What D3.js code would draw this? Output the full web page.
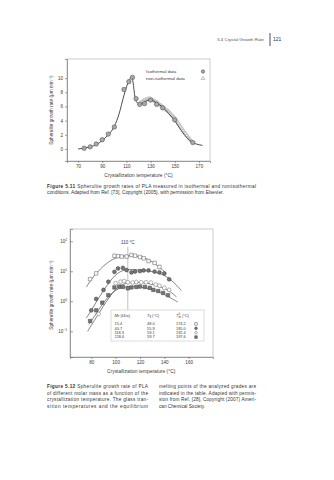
<!DOCTYPE html>
<html>
<head>
<meta charset="utf-8">
<script src="https://cdn.jsdelivr.net/npm/d3@7"></script>
<style>
  html, body { margin: 0; padding: 0; background: #fff; }
  svg { display: block; font-family: "Liberation Sans", Arial, sans-serif; }
</style>
</head>
<body>
<svg id="page" width="334" height="480"></svg>
<script>
// ---------- Figure 5.11: growth rate vs crystallization temperature (linear axis) ----------
const isoTemp   = [75, 80, 85, 90, 95, 100, 108, 112, 115, 118, 121, 125, 130, 135, 140, 150, 165];
const isoRate   = [0.1, 0.3, 0.7, 1.3, 2.1, 3.1, 8.4, 9.5, 10.1, 7.1, 6.3, 6.4, 6.9, 6.3, 5.8, 4.1, 0.9];
const fitTemp   = [70, 75, 80, 85, 90, 95, 100, 104, 108, 111, 113, 114.5, 115.5, 117, 119, 121, 124, 127, 130, 135, 140, 145, 150, 155, 160, 165, 170, 173];
const fitRate   = [0.0, 0.1, 0.3, 0.6, 1.2, 2.0, 3.2, 5.0, 7.6, 9.2, 9.9, 10.2, 9.4, 7.4, 6.5, 6.3, 6.5, 6.8, 6.9, 6.5, 5.9, 5.0, 4.0, 2.7, 1.6, 0.9, 0.6, 0.5];
const nonIsoTemp = [121, 122, 123, 124, 125, 126, 127, 128, 129, 130, 131, 132, 133, 134, 135, 136, 137, 138, 139, 140, 141, 142, 143, 144, 145, 146, 147, 148, 149, 150, 151, 152, 153, 154, 155, 156, 157, 158, 159, 160, 161, 162, 163, 164];
const nonIsoRate = [6.4, 6.6, 6.7, 6.8, 6.9, 7.0, 7.0, 7.1, 7.1, 7.1, 7.0, 6.9, 6.8, 6.7, 6.6, 6.5, 6.3, 6.2, 6.1, 6.0, 5.8, 5.7, 5.5, 5.4, 5.3, 5.1, 4.9, 4.7, 4.6, 4.4, 4.1, 3.9, 3.6, 3.4, 3.1, 2.9, 2.6, 2.4, 2.2, 1.9, 1.7, 1.5, 1.3, 1.1];
const xTicks1 = [70, 90, 110, 130, 150, 170];
const yTicks1 = [0, 2, 4, 6, 8, 10];

// ---------- Figure 5.12: growth rate for four molar masses (log axis) ----------
const gradeMn = ["15.4", "40.7", "118.3", "218.6"];
const gradeTg = ["48.0", "55.9", "59.1", "59.7"];
const gradeTm = ["174.2", "185.0", "192.4", "197.6"];
const s1Temp = [79, 84, 99, 102, 105, 109, 113, 116, 120, 123, 127, 132, 136];
const s1Rate = [5.5, 8.5, 33, 32, 31, 31, 35, 33, 30, 27, 22, 19, 14];
const s2Temp = [80, 84, 90, 94, 99, 102, 106, 109, 113, 116, 120, 123, 127, 132, 136, 140, 144];
const s2Rate = [0.5, 1.2, 2.4, 4.5, 9.6, 12.5, 13, 11, 9.2, 9.8, 10.2, 10.7, 10.7, 9.8, 9.2, 8.5, 5.4];
const s3Temp = [86, 100, 104, 107, 110, 114, 117, 121, 125, 129, 133, 136, 140, 144];
const s3Rate = [0.38, 4.0, 4.5, 4.7, 4.3, 4.2, 4.4, 4.3, 4.3, 4.2, 3.6, 3.3, 2.8, 2.4];
const s4Temp = [79, 84, 89, 94, 99, 103, 106, 110, 113, 117, 120, 124, 128, 131, 135, 139, 143];
const s4Rate = [0.22, 0.5, 0.9, 1.6, 2.9, 3.1, 3.0, 2.7, 2.9, 3.0, 3.1, 3.0, 2.8, 2.4, 2.2, 1.9, 1.6];
const f1Temp = [76, 80, 85, 90, 95, 100, 105, 110, 115, 120, 125, 130, 135, 141];
const f1Rate = [3.0, 5.5, 9.5, 15, 22, 28, 32, 33, 33, 31, 27, 21, 15, 9];
const f2Temp = [76, 80, 85, 90, 95, 100, 105, 110, 115, 120, 125, 130, 135, 140, 145, 150, 154];
const f2Rate = [0.28, 0.5, 1.1, 2.3, 4.5, 7.8, 10.5, 11.5, 11.5, 11, 10.5, 9.8, 8.8, 7.4, 5.4, 3.5, 2.3];
const f3Temp = [77, 80, 85, 90, 95, 100, 105, 110, 115, 120, 125, 130, 135, 140, 145, 150];
const f3Rate = [0.1, 0.16, 0.33, 0.7, 1.4, 2.6, 3.6, 4.1, 4.3, 4.3, 4.1, 3.7, 3.2, 2.7, 2.1, 1.4];
const f4Temp = [78, 80, 85, 90, 95, 100, 105, 110, 115, 120, 125, 130, 135, 140, 145, 151];
const f4Rate = [0.17, 0.22, 0.45, 0.9, 1.6, 2.4, 2.9, 3.1, 3.1, 3.0, 2.8, 2.5, 2.1, 1.7, 1.3, 0.95];
const xTicks2 = [80, 100, 120, 140, 160];
const yTicks2 = [0.1, 1, 10, 100];
const markerTemp = 110;

const svg = d3.select("#page");
const ink = "#3a3a3a";
const zip = (a, b) => a.map((d, i) => [d, b[i]]);

// ---------- running head ----------
svg.append("text").attr("x", 264).attr("y", 40.5).attr("text-anchor", "end")
  .attr("font-size", 4.4).attr("fill", "#555")
  .text("5.4   Crystal Growth Rate");
svg.append("line").attr("x1", 270).attr("x2", 270).attr("y1", 33).attr("y2", 46)
  .attr("stroke", "#222").attr("stroke-width", 0.8);
svg.append("text").attr("x", 273).attr("y", 41).attr("font-size", 5).attr("fill", "#333").text("121");

function styleAxis(a) {
  a.select(".domain").attr("stroke", "#666").attr("stroke-width", 0.6);
  a.selectAll(".tick line").attr("stroke", "#666").attr("stroke-width", 0.6);
  a.selectAll(".tick text").attr("font-size", 4.6).attr("fill", ink)
    .attr("font-family", "Liberation Sans, Arial, sans-serif");
}

// ---------- chart 1 ----------
const L1 = 67, R1 = 210, T1 = 59, B1 = 161;
const x1 = d3.scaleLinear().domain([60.8, 179.2]).range([L1, R1]);
const y1 = d3.scaleLinear().domain([-1.7, 12.7]).range([B1, T1]);
const g1 = svg.append("g");

g1.append("rect").attr("x", L1).attr("y", T1).attr("width", R1 - L1).attr("height", B1 - T1)
  .attr("fill", "none").attr("stroke", "#aaa").attr("stroke-width", 0.6);

const ax1 = g1.append("g").attr("transform", `translate(0,${B1})`)
  .call(d3.axisBottom(x1).tickValues(xTicks1).tickSize(2).tickPadding(2));
const ay1 = g1.append("g").attr("transform", `translate(${L1},0)`)
  .call(d3.axisLeft(y1).tickValues(yTicks1).tickSize(2).tickPadding(2));
styleAxis(ax1); styleAxis(ay1);

g1.append("text").attr("transform", "translate(52.5,110) rotate(-90)")
  .attr("text-anchor", "middle").attr("font-size", 4.7).attr("fill", ink)
  .text("Spherulite growth rate (μm min⁻¹)");
g1.append("text").attr("x", x1(120)).attr("y", 176.5).attr("text-anchor", "middle")
  .attr("font-size", 4.9).attr("fill", ink).text("Crystallization temperature (°C)");

// non-isothermal points
const tri = d3.symbol().type(d3.symbolTriangle).size(6);
g1.append("g").selectAll("path").data(zip(nonIsoTemp, nonIsoRate)).join("path")
  .attr("d", tri).attr("transform", d => `translate(${x1(d[0])},${y1(d[1])})`)
  .attr("fill", "none").attr("stroke", "#b4b4b4").attr("stroke-width", 0.6);

// isothermal fit curve
g1.append("path").datum(zip(fitTemp, fitRate))
  .attr("d", d3.line().x(d => x1(d[0])).y(d => y1(d[1])).curve(d3.curveMonotoneX))
  .attr("fill", "none").attr("stroke", "#222").attr("stroke-width", 0.8);

// isothermal points
g1.append("g").selectAll("circle").data(zip(isoTemp, isoRate)).join("circle")
  .attr("cx", d => x1(d[0])).attr("cy", d => y1(d[1])).attr("r", 2.2)
  .attr("fill", "#a8a8a8").attr("stroke", "#555").attr("stroke-width", 0.6);

// legend
g1.append("text").attr("x", 146).attr("y", 73).attr("font-size", 4.4).attr("fill", ink).text("Isothermal data");
g1.append("text").attr("x", 146).attr("y", 79.8).attr("font-size", 4.4).attr("fill", ink).text("non-isothermal data");
g1.append("circle").attr("cx", 203).attr("cy", 71.5).attr("r", 1.7)
  .attr("fill", "#a8a8a8").attr("stroke", "#555").attr("stroke-width", 0.6);
g1.append("path").attr("d", tri).attr("transform", "translate(203,78.5)")
  .attr("fill", "none").attr("stroke", "#999").attr("stroke-width", 0.6);

// caption 5.11
const capStep = 6.6;
const cap1 = svg.append("g").attr("font-size", 4.8).attr("fill", "#333");
const c1a = cap1.append("text").attr("x", 47).attr("y", 187.8)
  .attr("textLength", 209).attr("lengthAdjust", "spacing");
c1a.append("tspan").attr("font-weight", "bold").text("Figure 5.11");
c1a.append("tspan").text("  Spherulite growth rates of PLA measured in isothermal and nonisothermal");
cap1.append("text").attr("x", 47).attr("y", 187.8 + capStep)
  .text("conditions.  Adapted from Ref. [73], Copyright (2005), with permission from Elsevier.");

// ---------- chart 2 ----------
const L2 = 70, R2 = 213, T2 = 229, B2 = 357;
const x2 = d3.scaleLinear().domain([62.5, 180]).range([L2, R2]);
const y2 = d3.scaleLog().domain([Math.pow(10, -1.857), Math.pow(10, 2.41)]).range([B2, T2]);
const g2 = svg.append("g");

g2.append("rect").attr("x", L2).attr("y", T2).attr("width", R2 - L2).attr("height", B2 - T2)
  .attr("fill", "none").attr("stroke", "#aaa").attr("stroke-width", 0.6);

const ax2 = g2.append("g").attr("transform", `translate(0,${B2})`)
  .call(d3.axisBottom(x2).tickValues(xTicks2).tickSize(2).tickPadding(2));
const ay2 = g2.append("g").attr("transform", `translate(${L2},0)`)
  .call(d3.axisLeft(y2).tickValues(yTicks2).tickSize(-3).tickFormat(() => ""));
styleAxis(ax2); styleAxis(ay2);

// power-of-ten labels
const pLabels = g2.append("g").attr("font-size", 4.5).attr("fill", ink);
yTicks2.forEach(v => {
  const t = pLabels.append("text").attr("x", L2 - 3).attr("y", y2(v) + 1.6).attr("text-anchor", "end");
  t.append("tspan").text("10");
  t.append("tspan").attr("dy", -2).attr("font-size", 3.3).text(String(Math.round(Math.log10(v))).replace("-", "−"));
});

g2.append("text").attr("transform", "translate(52.5,295) rotate(-90)")
  .attr("text-anchor", "middle").attr("font-size", 4.7).attr("fill", ink)
  .text("Spherulite growth rate (μm min⁻¹)");
g2.append("text").attr("x", x2(121)).attr("y", 372.5).attr("text-anchor", "middle")
  .attr("font-size", 4.9).attr("fill", ink).text("Crystallization temperature (°C)");

// 110 °C reference line
g2.append("line").attr("x1", x2(markerTemp)).attr("x2", x2(markerTemp)).attr("y1", 247).attr("y2", 310)
  .attr("stroke", "#999").attr("stroke-width", 0.6);
g2.append("text").attr("x", x2(markerTemp)).attr("y", 243.8).attr("text-anchor", "middle")
  .attr("font-size", 4.5).attr("fill", ink).text("110 °C");

// fit curves
const line2 = d3.line().x(d => x2(d[0])).y(d => y2(d[1])).curve(d3.curveBasis);
[[f1Temp, f1Rate], [f2Temp, f2Rate], [f3Temp, f3Rate], [f4Temp, f4Rate]].forEach(([t, r]) => {
  g2.append("path").datum(zip(t, r)).attr("d", line2)
    .attr("fill", "none").attr("stroke", "#333").attr("stroke-width", 0.6);
});

// markers for the four grades
const sq = d3.symbol().type(d3.symbolSquare).size(12);
const sqSmall = d3.symbol().type(d3.symbolSquare).size(7);
const styles = [
  { shape: "square", fill: "#fff", stroke: "#555" },
  { shape: "circle", fill: "#777", stroke: "#333" },
  { shape: "circle", fill: "#fff", stroke: "#666" },
  { shape: "square", fill: "#777", stroke: "#444" }
];
const series = [[s1Temp, s1Rate], [s2Temp, s2Rate], [s3Temp, s3Rate], [s4Temp, s4Rate]];
function drawMarker(sel, st, x, y, small) {
  if (st.shape === "square") {
    sel.append("path").attr("d", small ? sqSmall : sq).attr("transform", `translate(${x},${y})`)
      .attr("fill", st.fill).attr("stroke", st.stroke).attr("stroke-width", 0.5);
  } else {
    sel.append("circle").attr("cx", x).attr("cy", y).attr("r", small ? 1.3 : 1.9)
      .attr("fill", st.fill).attr("stroke", st.stroke).attr("stroke-width", 0.5);
  }
}
[3, 2, 1, 0].forEach(i => {
  const gs = g2.append("g");
  zip(series[i][0], series[i][1]).forEach(d => drawMarker(gs, styles[i], x2(d[0]), y2(d[1]), false));
});

// table of grades
const tb = g2.append("g");
const tbLeft = 111, tbRight = 204, tbTop = 310, tbBottom = 341;
tb.append("rect").attr("x", tbLeft).attr("y", tbTop).attr("width", tbRight - tbLeft).attr("height", tbBottom - tbTop)
  .attr("fill", "#fff").attr("stroke", "#bbb").attr("stroke-width", 0.5);
const colMn = 114.5, colTg = 147, colTm = 176, colSym = 196;
const th = tb.append("g").attr("font-size", 3.9).attr("fill", ink);
const h1 = th.append("text").attr("x", colMn).attr("y", 316.5);
h1.append("tspan").attr("font-style", "italic").text("M");
h1.append("tspan").attr("font-size", 2.9).attr("dy", 0.9).text("n");
h1.append("tspan").attr("dy", -0.9).text(" (kDa)");
const h2 = th.append("text").attr("x", colTg).attr("y", 316.5);
h2.append("tspan").attr("font-style", "italic").text("T");
h2.append("tspan").attr("font-size", 2.9).attr("dy", 0.9).text("g");
h2.append("tspan").attr("dy", -0.9).text(" (°C)");
const h3 = th.append("text").attr("x", colTm).attr("y", 316.5);
h3.append("tspan").attr("font-style", "italic").text("T");
h3.append("tspan").attr("font-size", 2.9).attr("dy", -1.7).text("0");
h3.append("tspan").attr("font-size", 2.9).attr("dx", -1.6).attr("dy", 2.8).text("m");
h3.append("tspan").attr("dy", -1.1).text(" (°C)");
gradeMn.forEach((m, i) => {
  const yy = 325.2 + i * 4.4;
  th.append("text").attr("x", colMn).attr("y", yy).text(m);
  th.append("text").attr("x", colTg).attr("y", yy).text(gradeTg[i]);
  th.append("text").attr("x", colTm).attr("y", yy).text(gradeTm[i]);
  drawMarker(tb, styles[i], colSym, yy - 1.3, true);
});

// caption 5.12 (two justified columns)
const cap2 = svg.append("g").attr("font-size", 4.7).attr("fill", "#333");
const leftCol = ["", "of different molar mass as a function of the", "crystallization temperature. The glass tran-", "sition temperatures and the equilibrium"];
const rightCol = ["melting points of the analyzed grades are", "indicated in the table.  Adapted with permis-", "sion from Ref. [28], Copyright (2007) Ameri-", "can Chemical Society."];
const capTop = 388;
const c2a = cap2.append("text").attr("x", 47).attr("y", capTop)
  .attr("textLength", 101).attr("lengthAdjust", "spacing");
c2a.append("tspan").attr("font-weight", "bold").text("Figure 5.12");
c2a.append("tspan").text("  Spherulite growth rate of PLA");
leftCol.forEach((s, i) => {
  if (i) cap2.append("text").attr("x", 47).attr("y", capTop + i * capStep)
    .attr("textLength", 101).attr("lengthAdjust", "spacing").text(s);
});
rightCol.forEach((s, i) => {
  const t = cap2.append("text").attr("x", 159).attr("y", capTop + i * capStep).text(s);
  if (i < 3) t.attr("textLength", 97).attr("lengthAdjust", "spacing");
});
</script>
</body>
</html>
